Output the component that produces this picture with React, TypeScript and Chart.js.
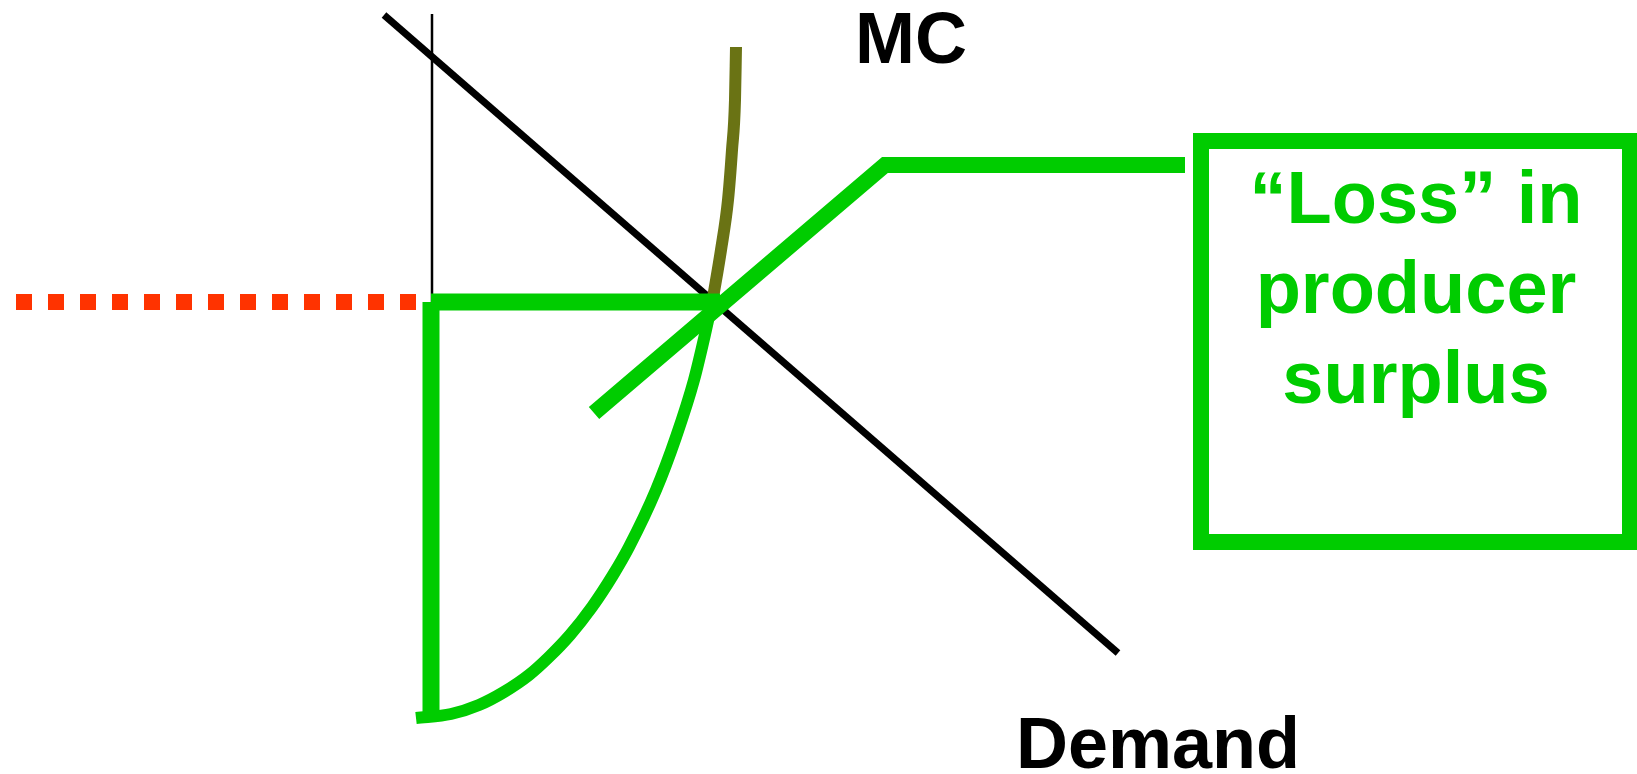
import React, { useEffect, useRef } from "react";
import { Chart, registerables } from "chart.js";

Chart.register(...registerables);

// Diagram space: x = quantity units (0–1637), y = price units (0–774, drawn top-down)
const X_RANGE = [0, 1637];
const Y_RANGE = [0, 774];

const demandCurve = [
  { x: 384, y: 15 },
  { x: 1118, y: 653 },
];

const mcLowerCurve = [
  { x: 416, y: 718 },
  { x: 451, y: 714 },
  { x: 479, y: 705 },
  { x: 504, y: 692 },
  { x: 529, y: 675 },
  { x: 549, y: 657 },
  { x: 570, y: 635 },
  { x: 592, y: 607 },
  { x: 613, y: 575 },
  { x: 629, y: 547 },
  { x: 656, y: 490 },
  { x: 676, y: 437 },
  { x: 694, y: 380 },
  { x: 706, y: 330 },
  { x: 713, y: 298 },
];

const mcUpperCurve = [
  { x: 713, y: 298 },
  { x: 721, y: 250 },
  { x: 728, y: 200 },
  { x: 732, y: 150 },
  { x: 735, y: 100 },
  { x: 736, y: 47 },
];

const quantityGuide = [
  { x: 432, y: 14 },
  { x: 432, y: 302 },
];

const priceDotted = [
  { x: 16, y: 302 },
  { x: 416, y: 302 },
];

const lossVertical = [
  { x: 431, y: 302 },
  { x: 431, y: 714 },
];

const lossHorizontal = [
  { x: 431, y: 302 },
  { x: 720, y: 302 },
];

const pointerLine = [
  { x: 594, y: 413 },
  { x: 885, y: 165 },
  { x: 1185, y: 165 },
];

const calloutBox = [
  { x: 1415, y: 141 },
  { x: 1630, y: 141 },
  { x: 1630, y: 542 },
  { x: 1201, y: 542 },
  { x: 1201, y: 141 },
  { x: 1415, y: 141 },
];

const calloutLines = ["\u201CLoss\u201D in", "producer", "surplus"];
const calloutBaselines = [223, 313, 403];
const calloutCenterX = 1416;

const curveLabels = [
  { text: "MC", x: 855, y: 63 },
  { text: "Demand", x: 1016, y: 768 },
];

const GREEN = "#00CC00";
const RED = "#FF3300";
const OLIVE = "#6A7314";
const BLACK = "#000000";
const FONT = '"Liberation Sans", Arial, Helvetica, sans-serif';

const textPlugin = {
  id: "diagramText",
  afterDatasetsDraw(chart: any) {
    const { ctx, scales } = chart;
    const sx = scales.x;
    const sy = scales.y;
    ctx.save();
    ctx.textBaseline = "alphabetic";
    ctx.fillStyle = BLACK;
    ctx.textAlign = "left";
    ctx.font = `bold 72px ${FONT}`;
    curveLabels.forEach((l) => {
      ctx.fillText(l.text, sx.getPixelForValue(l.x), sy.getPixelForValue(l.y));
    });
    ctx.fillStyle = GREEN;
    ctx.textAlign = "center";
    ctx.font = `bold 74px ${FONT}`;
    calloutLines.forEach((t, i) => {
      ctx.fillText(t, sx.getPixelForValue(calloutCenterX), sy.getPixelForValue(calloutBaselines[i]));
    });
    ctx.restore();
  },
};

function line(data: any[], color: string, width: number, order: number, extra: any = {}) {
  return {
    data,
    showLine: true,
    borderColor: color,
    backgroundColor: color,
    borderWidth: width,
    pointRadius: 0,
    pointHoverRadius: 0,
    fill: false,
    order,
    borderCapStyle: "butt",
    borderJoinStyle: "miter",
    ...extra,
  };
}

export default function App() {
  const ref = useRef<HTMLCanvasElement | null>(null);

  useEffect(() => {
    if (!ref.current) return;
    const chart = new Chart(ref.current, {
      type: "scatter",
      data: {
        datasets: [
          line(calloutBox, GREEN, 16, 0),
          line(pointerLine, GREEN, 16, 1),
          line(lossHorizontal, GREEN, 17, 2),
          line(lossVertical, GREEN, 17, 2),
          line(priceDotted, RED, 16, 3, { borderDash: [16, 16] }),
          line(mcUpperCurve, OLIVE, 12, 4, { cubicInterpolationMode: "monotone", borderJoinStyle: "round" }),
          line(mcLowerCurve, GREEN, 12, 4, { cubicInterpolationMode: "monotone", borderJoinStyle: "round" }),
          line(quantityGuide, BLACK, 2.5, 5),
          line(demandCurve, BLACK, 7, 6),
        ] as any,
      },
      options: {
        animation: false,
        responsive: true,
        maintainAspectRatio: false,
        events: [],
        layout: { padding: 0 },
        plugins: {
          legend: { display: false },
          tooltip: { enabled: false },
          title: { display: false },
        },
        scales: {
          x: { type: "linear", min: X_RANGE[0], max: X_RANGE[1], display: false },
          y: { type: "linear", min: Y_RANGE[0], max: Y_RANGE[1], reverse: true, display: false },
        },
      } as any,
      plugins: [textPlugin],
    });
    return () => chart.destroy();
  }, []);

  return (
    <div
      style={{
        position: "fixed",
        left: 0,
        top: 0,
        width: "1637px",
        height: "774px",
        background: "#ffffff",
      }}
    >
      <canvas ref={ref} />
    </div>
  );
}
